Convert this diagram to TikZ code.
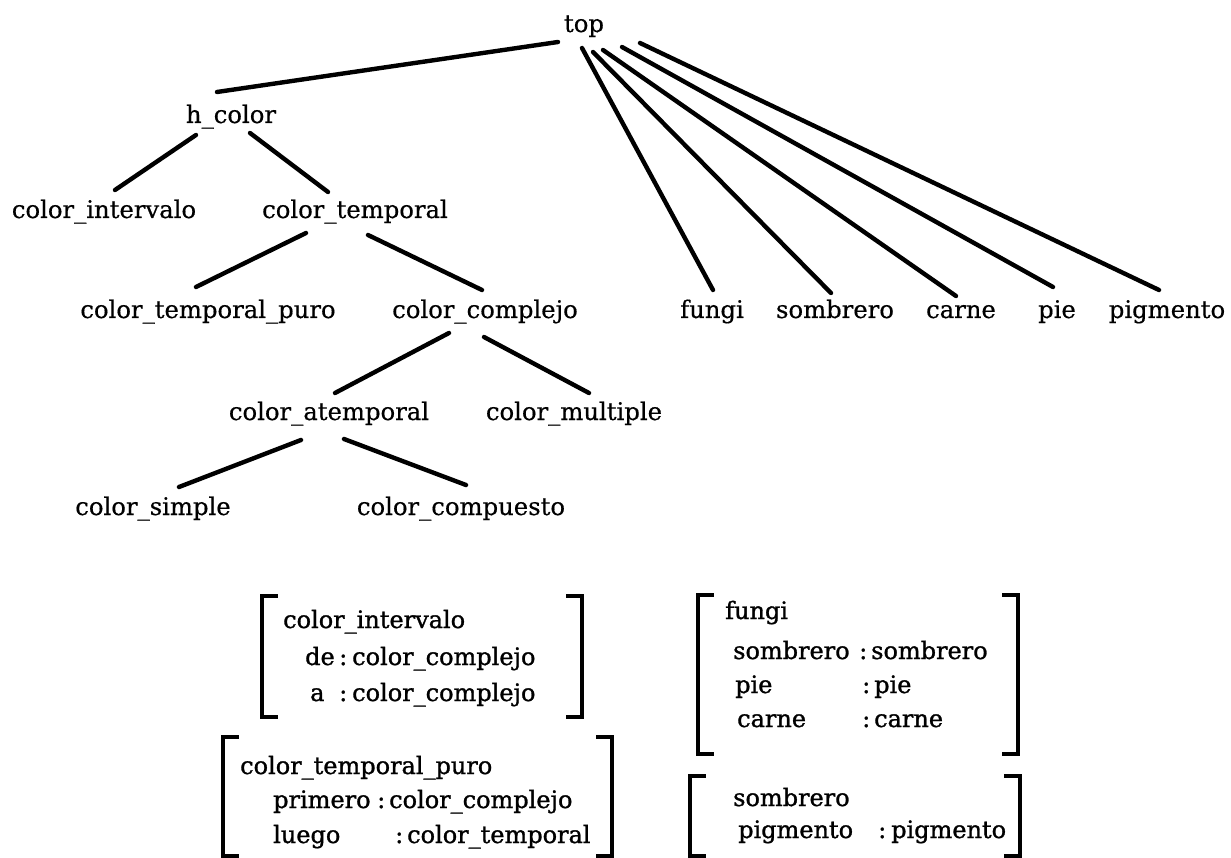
\documentclass[tikz,border=0pt]{standalone}
\usepackage{fontspec}
\setmainfont{DejaVu Serif}
\newfontfamily\treefont[FakeBold=0.5]{DejaVu Serif}
\newfontfamily\fsfont[FakeBold=1.2]{DejaVu Serif}
\newcommand\fsbrackets[1]{%
  \draw[brk] ([xshift=16pt]#1.north west) -- (#1.north west) -- (#1.south west) -- ([xshift=16pt]#1.south west);
  \draw[brk] ([xshift=-16pt]#1.north east) -- (#1.north east) -- (#1.south east) -- ([xshift=-16pt]#1.south east);}
\begin{document}
\begin{tikzpicture}[x=1pt,y=-1pt,
  lbl/.style={anchor=base, inner sep=0pt, font=\treefont\fontsize{24.3}{28}\selectfont},
  txt/.style={anchor=base west, inner sep=0pt, font=\fsfont\fontsize{24}{28}\selectfont},
  edge/.style={line width=4.4pt, line cap=round},
  brk/.style={line width=3.6pt, line join=miter},
  frame/.style={draw=none, inner sep=0pt, rectangle}]
\useasboundingbox (0,0) rectangle (1231,858);

% hierarchy of types
\node[lbl] (top)   at (584,32)  {top};
\node[lbl] (hc)    at (231,123) {h\_color};
\node[lbl] (ci)    at (104,218) {color\_intervalo};
\node[lbl] (ct)    at (355,218) {color\_temporal};
\node[lbl] (ctp)   at (208,318) {color\_temporal\_puro};
\node[lbl] (cc)    at (485,318) {color\_complejo};
\node[lbl] (ca)    at (329,420) {color\_atemporal};
\node[lbl] (cm)    at (574,420) {color\_multiple};
\node[lbl] (cs)    at (153,515) {color\_simple};
\node[lbl] (ccomp) at (461,515) {color\_compuesto};
\node[lbl] (fungi) at (712,318) {fungi};
\node[lbl] (somb)  at (835,318) {sombrero};
\node[lbl] (carne) at (961,318) {carne};
\node[lbl] (pie)   at (1057,318) {pie};
\node[lbl] (pigm)  at (1167,318) {pigmento};

\draw[edge] ([shift={(-26,10)}]top.base) -- ([shift={(-14,-31)}]hc.base);
\draw[edge] ([shift={(-35,12)}]hc.base) -- ([shift={(11,-28)}]ci.base);
\draw[edge] ([shift={(19,10)}]hc.base) -- ([shift={(-27,-26)}]ct.base);
\draw[edge] ([shift={(-49,15)}]ct.base) -- ([shift={(-12,-31)}]ctp.base);
\draw[edge] ([shift={(13,17)}]ct.base) -- ([shift={(-3,-28)}]cc.base);
\draw[edge] ([shift={(-36,15)}]cc.base) -- ([shift={(6,-27)}]ca.base);
\draw[edge] ([shift={(-1,19)}]cc.base) -- ([shift={(15,-27)}]cm.base);
\draw[edge] ([shift={(-28,20)}]ca.base) -- ([shift={(26,-28)}]cs.base);
\draw[edge] ([shift={(15,19)}]ca.base) -- ([shift={(5,-30)}]ccomp.base);
\draw[edge] ([shift={(-2,16)}]top.base) -- ([shift={(1,-28)}]fungi.base);
\draw[edge] ([shift={(9,20)}]top.base) -- ([shift={(-4,-25)}]somb.base);
\draw[edge] ([shift={(19,18)}]top.base) -- ([shift={(-5,-22)}]carne.base);
\draw[edge] ([shift={(38,15)}]top.base) -- ([shift={(-4,-31)}]pie.base);
\draw[edge] ([shift={(56,11)}]top.base) -- ([shift={(-8,-28)}]pigm.base);

% feature structures
\node[frame, minimum width=320pt, minimum height=121pt] (fsA) at (422,656.5) {};
\node[frame, minimum width=389pt, minimum height=119pt] (fsB) at (417.5,796.5) {};
\node[frame, minimum width=320pt, minimum height=159pt] (fsC) at (858,674.5) {};
\node[frame, minimum width=330pt, minimum height=80pt]  (fsD) at (855,816) {};
\fsbrackets{fsA}
\fsbrackets{fsB}
\fsbrackets{fsC}
\fsbrackets{fsD}

\node[txt] (a1)  at (283,628) {color\_intervalo};
\node[txt] (a2)  at (305,665) {de};
\node[txt] (a2c) at (339,665) {:};
\node[txt] (a2v) at (352,665) {color\_complejo};
\node[txt] (a3)  at (310,701) {a};
\node[txt] (a3c) at (339,701) {:};
\node[txt] (a3v) at (352,701) {color\_complejo};

\node[txt] (b1)  at (240,774) {color\_temporal\_puro};
\node[txt] (b2)  at (273,808) {primero};
\node[txt] (b2c) at (377,808) {:};
\node[txt] (b2v) at (389,808) {color\_complejo};
\node[txt] (b3)  at (273,843) {luego};
\node[txt] (b3c) at (395,843) {:};
\node[txt] (b3v) at (407,843) {color\_temporal};

\node[txt] (c1)  at (725,619) {fungi};
\node[txt] (c2)  at (733,659) {sombrero};
\node[txt] (c2c) at (859,659) {:};
\node[txt] (c2v) at (871,659) {sombrero};
\node[txt] (c3)  at (735,693) {pie};
\node[txt] (c3c) at (862,693) {:};
\node[txt] (c3v) at (874,693) {pie};
\node[txt] (c4)  at (737,727) {carne};
\node[txt] (c4c) at (862,727) {:};
\node[txt] (c4v) at (874,727) {carne};

\node[txt] (d1)  at (733,806) {sombrero};
\node[txt] (d2)  at (738,838) {pigmento};
\node[txt] (d2c) at (878,838) {:};
\node[txt] (d2v) at (891,838) {pigmento};
\end{tikzpicture}
\end{document}
